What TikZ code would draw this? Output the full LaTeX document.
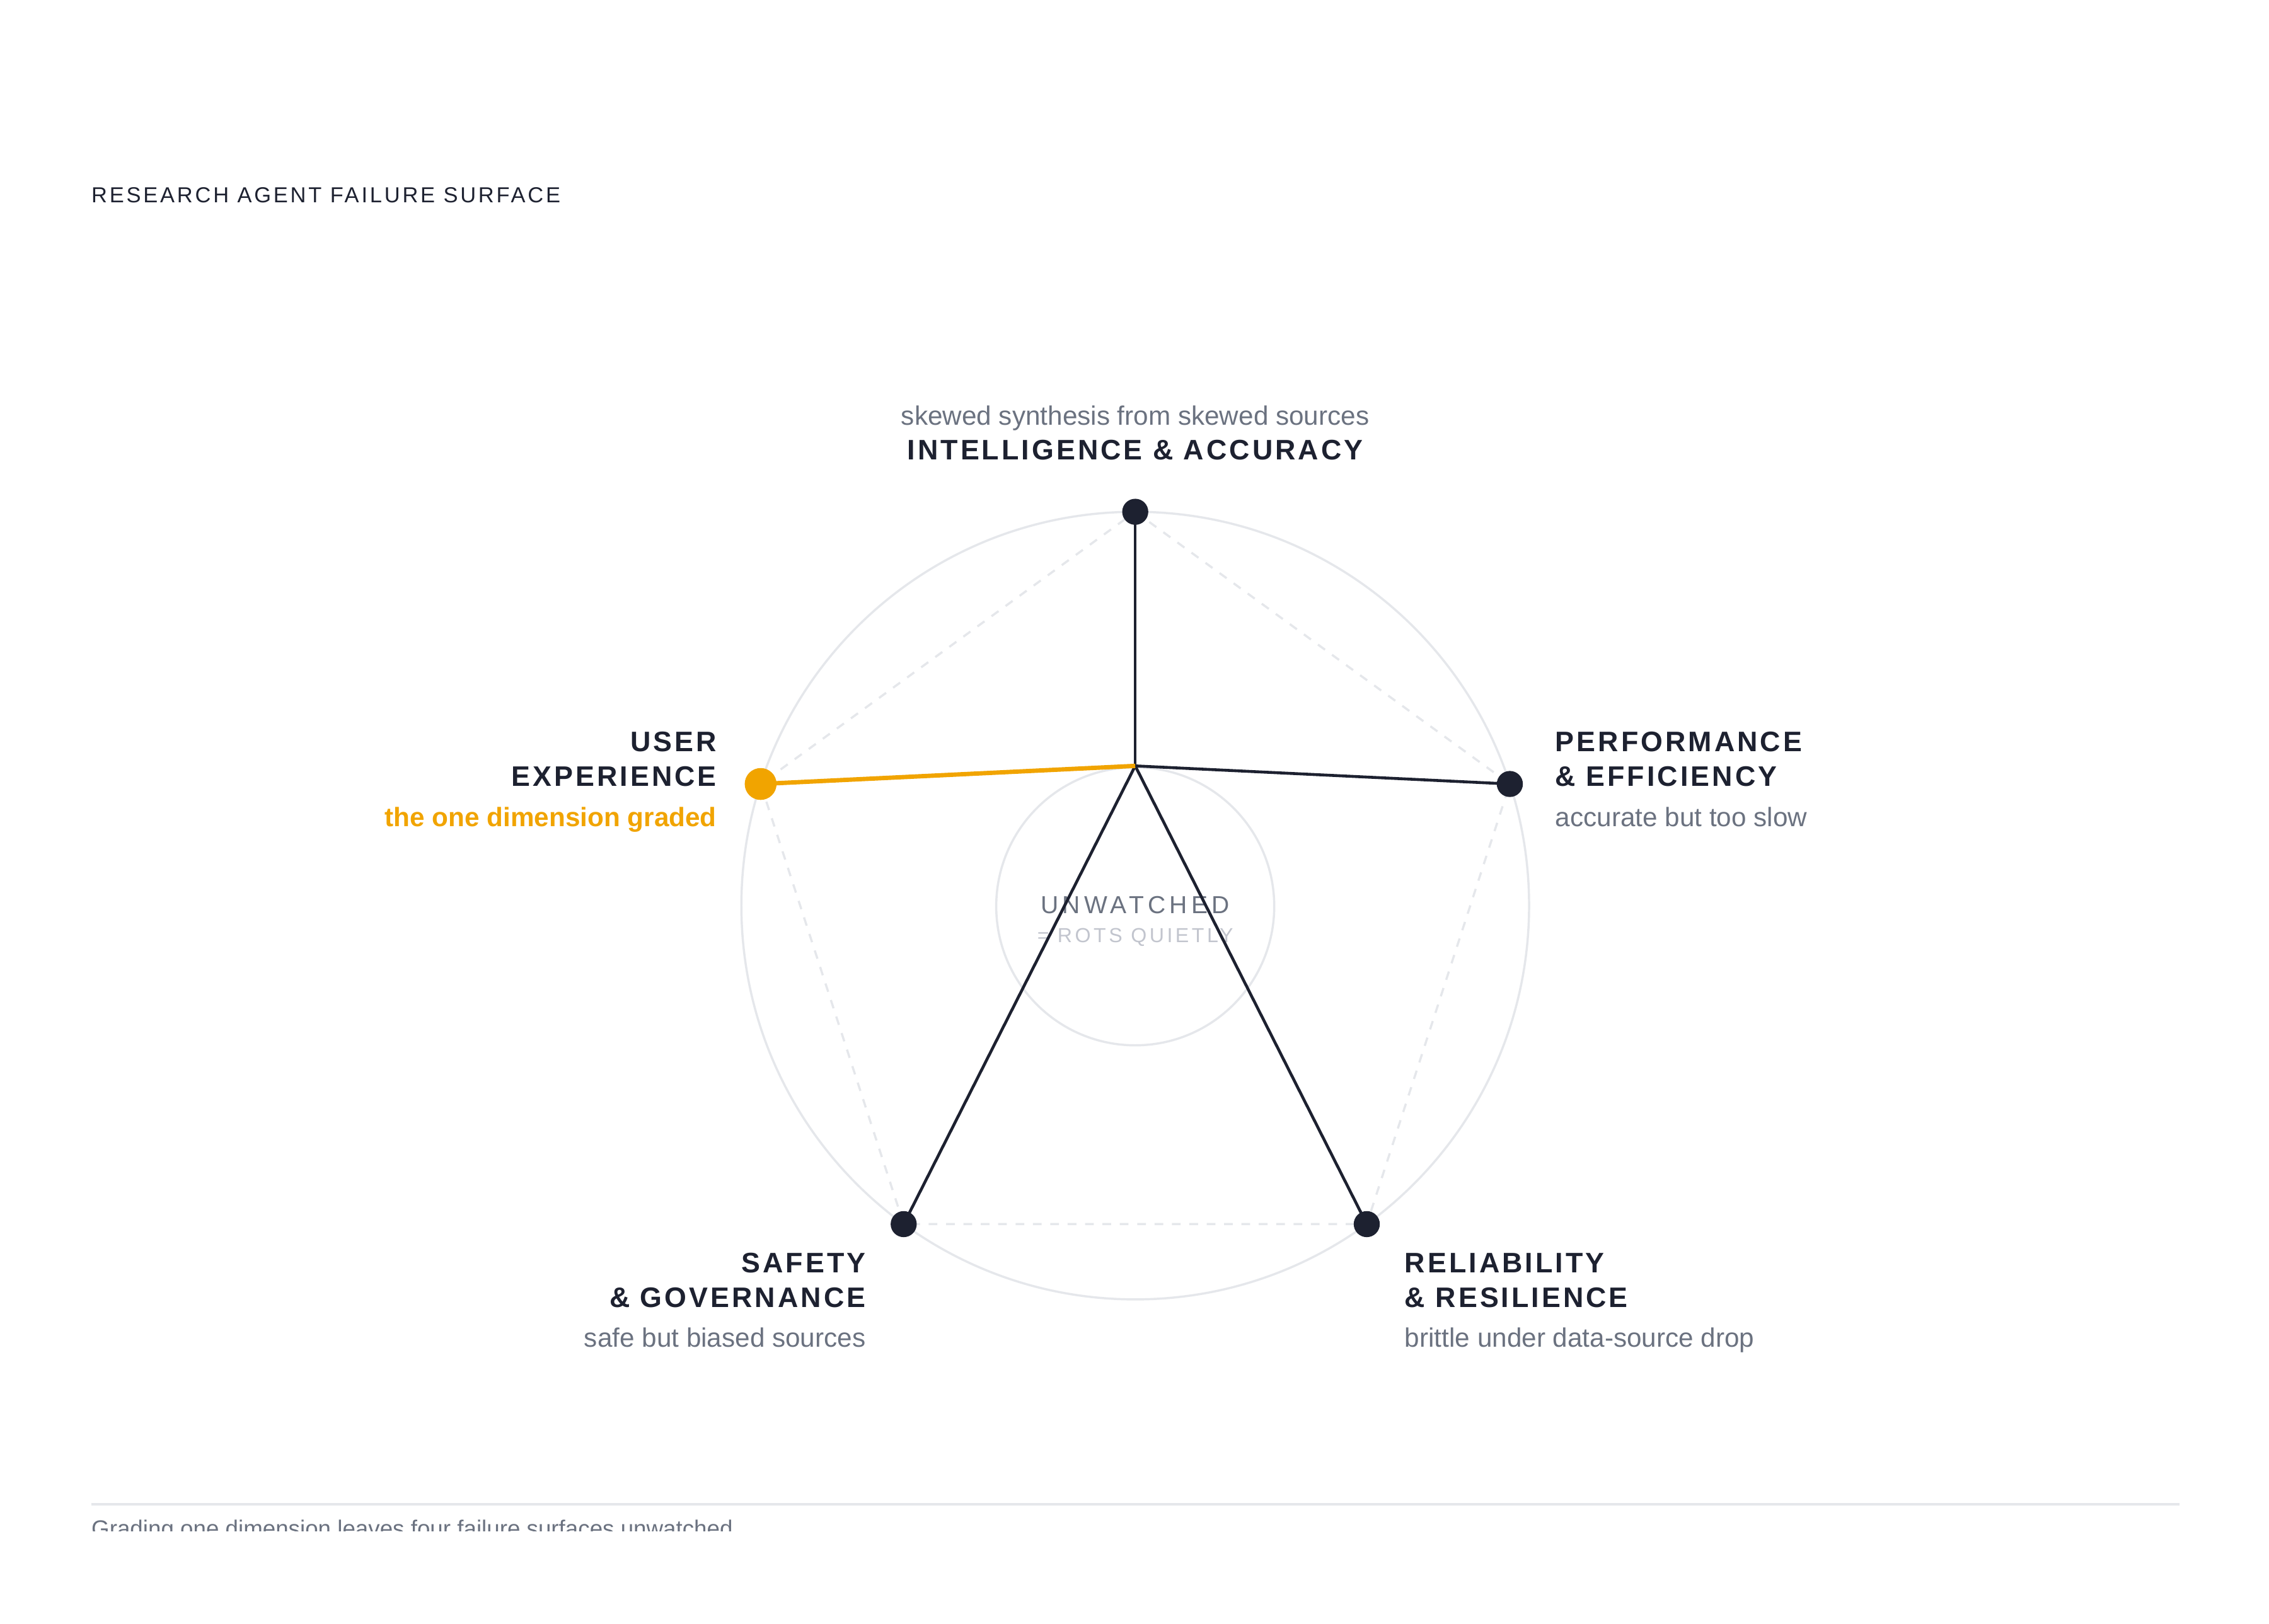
\documentclass[tikz,border=0pt]{standalone}
\usepackage{fontspec}
\setmainfont{Liberation Sans}
\definecolor{ink}{HTML}{1D2130}
\definecolor{amber}{HTML}{F1A400}
\definecolor{muted}{HTML}{6B7280}
\definecolor{faint}{HTML}{C2C5CE}
\definecolor{hair}{HTML}{E5E7EB}
\newcommand\capsfont{\fontsize{19.5}{24}\selectfont\bfseries\addfontfeature{LetterSpace=9}}
\newcommand\subfont{\fontsize{18.4}{22}\selectfont}
\begin{document}
\begin{tikzpicture}[x=1pt,y=-1pt,
  capl/.style={inner sep=0pt, text=ink, font=\capsfont},
  subl/.style={inner sep=0pt, text=muted, font=\subfont},
  ring/.style={draw=hair, line width=1.5pt},
  pent/.style={draw=hair, line width=1.5pt, dash pattern=on 6pt off 6pt},
  spoke/.style={draw=ink, line width=2pt},
  hotspoke/.style={draw=amber, line width=3pt},
  dotd/.style={fill=ink},
  doto/.style={fill=amber}]
\useasboundingbox (0,0) rectangle (1567,1121.7);
\fill[white] (0,0) rectangle (1567,1121.7);

% geometry
\coordinate (C) at (784,625.5);
\coordinate (hub) at (784,529);
\coordinate (vT) at (784,353.5);
\coordinate (vR) at (1042.7,541.5);
\coordinate (vBR) at (943.9,845.5);
\coordinate (vBL) at (624.1,845.5);
\coordinate (vL) at (525.3,541.5);

% title
\node[inner sep=0pt, anchor=base west, text=ink,
      font=\fontsize{15}{18}\selectfont\addfontfeature{LetterSpace=11}] (title) at (63,140) {RESEARCH AGENT FAILURE SURFACE};

% rings and dashed pentagon
\draw[ring] (C) circle[radius=272];
\draw[ring] (784,626) circle[radius=96];
\draw[pent] (vT) -- (vR) -- (vBR) -- (vBL) -- (vL) -- cycle;

% centre text
\node[inner sep=0pt, anchor=base, text=muted,
      font=\fontsize{17}{20}\selectfont\addfontfeature{LetterSpace=16}] (unw) at (784,631) {UNWATCHED};
\node[inner sep=0pt, anchor=base, text=faint,
      font=\fontsize{14}{17}\selectfont\addfontfeature{LetterSpace=14}] (rots) at (784,651) {= ROTS QUIETLY};

% spokes
\draw[spoke] (hub) -- (vT);
\draw[spoke] (hub) -- (vR);
\draw[spoke] (hub) -- (vBR);
\draw[spoke] (hub) -- (vBL);
\draw[hotspoke] (hub) -- (vL);

% dots
\fill[dotd] (vT) circle[radius=9];
\fill[dotd] (vR) circle[radius=9];
\fill[dotd] (vBR) circle[radius=9];
\fill[dotd] (vBL) circle[radius=9];
\fill[doto] (vL) circle[radius=11];

% labels: top
\node[subl, anchor=base] (iaS) at (784,293.5) {skewed synthesis from skewed sources};
\node[capl, anchor=base] (iaA) at (784,317.5) {INTELLIGENCE \& ACCURACY};

% right
\node[capl, anchor=base west] (peA) at (1074,519) {PERFORMANCE};
\node[capl, anchor=base west] (peB) at (1074,543) {\& EFFICIENCY};
\node[subl, anchor=base west] (peS) at (1074,571) {accurate but too slow};

% left
\node[capl, anchor=base east] (uxA) at (495,519) {USER};
\node[capl, anchor=base east] (uxB) at (495,543) {EXPERIENCE};
\node[subl, anchor=base east, text=amber, font=\subfont\bfseries] (uxS) at (495,571) {the one dimension graded};

% bottom left
\node[capl, anchor=base east] (sgA) at (598,879) {SAFETY};
\node[capl, anchor=base east] (sgB) at (598,903) {\& GOVERNANCE};
\node[subl, anchor=base east] (sgS) at (598,930.5) {safe but biased sources};

% bottom right
\node[capl, anchor=base west] (rrA) at (970,879) {RELIABILITY};
\node[capl, anchor=base west] (rrB) at (970,903) {\& RESILIENCE};
\node[subl, anchor=base west] (rrS) at (970,930.5) {brittle under data-source drop};

% footer
\coordinate (fL) at (63,1039);
\coordinate (fR) at (1505,1039);
\draw[draw=hair, line width=1.5pt] (fL) -- (fR);
\begin{scope}
  \clip (0,1042) rectangle (1567,1057.5);
  \node[inner sep=0pt, anchor=base west, text=muted, font=\fontsize{16}{19}\selectfont] (foot) at (63,1061.5) {Grading one dimension leaves four failure surfaces unwatched};
\end{scope}
\end{tikzpicture}
\end{document}
